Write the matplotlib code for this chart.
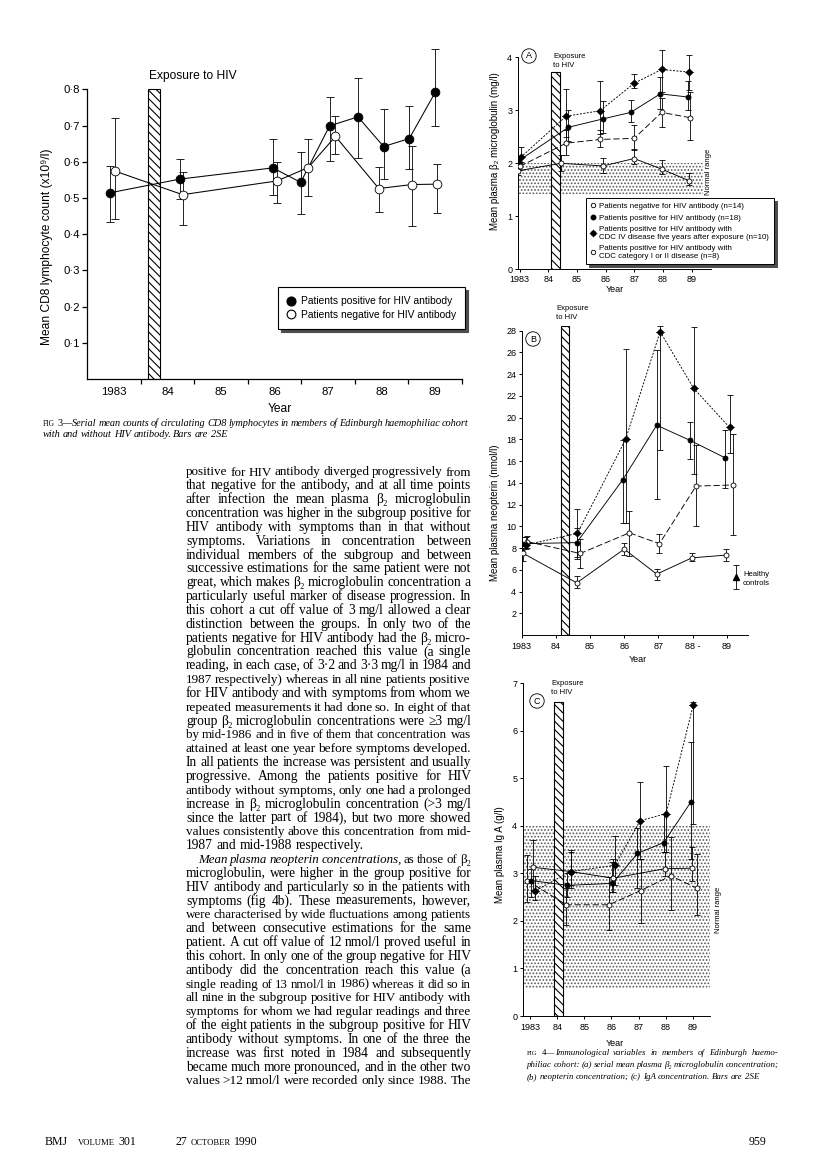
import numpy as np
import matplotlib
matplotlib.use('Agg')
import matplotlib.pyplot as plt
from matplotlib import font_manager as fm
from matplotlib.patches import Rectangle
from matplotlib.lines import Line2D

# ---------------- data ----------------
# Fig 3: mean CD8 lymphocyte count (x10^9/l), bars are 2SE
F3_POS_X = [1983.42, 1984.73, 1986.47, 1986.99, 1987.53, 1988.06, 1988.54, 1989.02, 1989.51]
F3_POS_Y = [0.514, 0.552, 0.583, 0.543, 0.699, 0.724, 0.642, 0.664, 0.793]
F3_POS_LO = [0.434, 0.496, 0.507, 0.456, 0.602, 0.610, 0.551, 0.580, 0.699]
F3_POS_HI = [0.589, 0.607, 0.662, 0.628, 0.779, 0.830, 0.746, 0.754, 0.911]
F3_NEG_X = [1983.52, 1984.78, 1986.55, 1987.13, 1987.64, 1988.45, 1989.07, 1989.53]
F3_NEG_Y = [0.574, 0.509, 0.547, 0.584, 0.670, 0.526, 0.537, 0.538]
F3_NEG_LO = [0.442, 0.426, 0.487, 0.506, 0.620, 0.462, 0.422, 0.458]
F3_NEG_HI = [0.721, 0.571, 0.600, 0.662, 0.727, 0.585, 0.643, 0.594]
F3_EXPOSURE = (1984.13, 1984.35)
F3_YTICKS = [0.1, 0.2, 0.3, 0.4, 0.5, 0.6, 0.7, 0.8]
F3_YLABELS = ['0·1', '0·2', '0·3', '0·4', '0·5', '0·6', '0·7', '0·8']
F3_XLABELS = ['1983', '84', '85', '86', '87', '88', '89']
F3_LEGEND = ['Patients positive for HIV antibody', 'Patients negative for HIV antibody']

# Fig 4a: beta2 microglobulin (mg/l)
A_NEG_X = [1982.95, 1984.44, 1985.90, 1986.99, 1987.95, 1988.91]
A_NEG_Y = [1.86, 2.00, 1.95, 2.09, 1.89, 1.67]
A_NEG_LO = [1.78, 1.85, 1.82, 1.98, 1.80, 1.60]
A_NEG_HI = [1.95, 2.15, 2.10, 2.27, 2.07, 1.82]
A_POS_X = [1982.97, 1984.70, 1985.92, 1986.87, 1987.90, 1988.88]
A_POS_Y = [2.05, 2.68, 2.84, 2.96, 3.31, 3.25]
A_POS_LO = [1.98, 2.42, 2.58, 2.78, 3.02, 3.00]
A_POS_HI = [2.12, 3.00, 3.18, 3.20, 3.62, 3.55]
A_C4_X = [1983.03, 1984.62, 1985.80, 1986.99, 1987.95, 1988.92]
A_C4_Y = [2.11, 2.89, 2.99, 3.51, 3.77, 3.72]
A_C4_LO = [2.02, 2.50, 2.55, 3.42, 3.35, 3.38]
A_C4_HI = [2.30, 3.40, 3.55, 3.68, 4.14, 4.05]
A_C12_X = [1983.00, 1984.62, 1985.80, 1986.99, 1987.95, 1988.95]
A_C12_Y = [1.94, 2.38, 2.45, 2.47, 2.96, 2.86]
A_C12_LO = [1.88, 2.15, 2.30, 2.25, 2.68, 2.44]
A_C12_HI = [2.00, 2.62, 2.62, 2.72, 3.23, 3.35]
A_NORMAL = (1982.93, 1989.40, 1.42, 2.0)
A_EXPOSURE = (1984.09, 1984.41, 3.72)

# Fig 4b: neopterin (nmol/l)
B_NEG_X = [1983.05, 1984.61, 1986.00, 1986.95, 1987.98, 1988.98]
B_NEG_Y = [7.5, 4.8, 7.9, 5.6, 7.1, 7.35]
B_NEG_LO = [6.8, 4.3, 7.4, 5.1, 6.8, 6.8]
B_NEG_HI = [8.0, 5.4, 8.5, 6.1, 7.5, 7.9]
B_POS_X = [1983.00, 1984.61, 1985.96, 1986.95, 1987.93, 1988.95]
B_POS_Y = [8.4, 8.5, 14.3, 19.3, 17.9, 16.3]
B_POS_LO = [7.8, 7.0, 10.3, 12.5, 16.2, 13.5]
B_POS_HI = [9.0, 9.8, 17.9, 26.2, 19.6, 18.9]
B_C4_X = [1983.13, 1984.63, 1986.04, 1987.05, 1988.03, 1989.08]
B_C4_Y = [8.3, 9.35, 18.0, 27.9, 22.7, 19.1]
B_C4_LO = [7.9, 7.2, 10.3, 17.0, 14.8, 16.7]
B_C4_HI = [9.0, 11.6, 26.3, 28.4, 28.3, 22.1]
B_C12_X = [1983.15, 1984.71, 1986.15, 1987.03, 1988.10, 1989.18]
B_C12_Y = [8.6, 7.5, 9.4, 8.4, 13.7, 13.8]
B_C12_LO = [8.0, 6.2, 7.3, 7.5, 10.0, 9.2]
B_C12_HI = [9.1, 8.8, 11.4, 9.3, 17.5, 18.5]
B_HEALTHY = (1989.27, 5.3, 4.2, 6.4)
B_EXPOSURE = (1984.15, 1984.39, 28.4)

# Fig 4c: IgA (g/l)
C_NEG_X = [1983.10, 1984.49, 1986.06, 1987.97, 1988.98]
C_NEG_Y = [3.13, 3.04, 2.90, 3.10, 3.11]
C_NEG_LO = [2.65, 2.70, 2.62, 2.95, 2.85]
C_NEG_HI = [3.70, 3.50, 3.30, 3.45, 3.55]
C_POS_X = [1983.04, 1984.37, 1986.03, 1986.96, 1987.93, 1988.93]
C_POS_Y = [2.85, 2.75, 2.79, 3.42, 3.65, 4.50]
C_POS_LO = [2.50, 2.50, 2.60, 2.70, 3.45, 3.30]
C_POS_HI = [3.10, 3.00, 3.25, 3.95, 4.25, 5.77]
C_C4_X = [1983.19, 1984.49, 1986.12, 1987.06, 1988.02, 1989.02]
C_C4_Y = [2.64, 3.04, 3.17, 4.11, 4.26, 6.54]
C_C4_LO = [2.45, 2.75, 2.75, 3.30, 3.45, 4.05]
C_C4_HI = [2.95, 3.45, 3.78, 4.93, 5.27, 6.60]
C_C12_X = [1982.89, 1984.33, 1985.90, 1987.08, 1988.19, 1989.16]
C_C12_Y = [2.85, 2.34, 2.34, 2.64, 2.95, 2.69]
C_C12_LO = [2.40, 1.92, 1.80, 1.95, 2.24, 2.12]
C_C12_HI = [3.38, 2.70, 2.92, 3.30, 3.77, 3.40]
C_NORMAL = (1982.72, 1989.64, 0.58, 4.0)
C_EXPOSURE = (1983.88, 1984.20, 6.61)

F4_XLABELS = ['1983', '84', '85', '86', '87', '88', '89']
F4B_XLABELS = ['1983', '84', '85', '86', '87', '88 -', '89']
F4_LEGEND = ['Patients negative for HIV antibody (n=14)',
             'Patients positive for HIV antibody (n=18)',
             'Patients positive for HIV antibody with\nCDC IV disease five years after exposure (n=10)',
             'Patients positive for HIV antibody with\nCDC category I or II disease (n=8)']

CAP3 = ["^FIG =3—|Serial mean counts of circulating CD8 lymphocytes in members of Edinburgh haemophiliac cohort",
        "with and without HIV antibody. Bars are 2SE"]
CAP4 = ["^FIG =4—|Immunological variables in members of Edinburgh haemo-",
        "philiac cohort: (a) serial mean plasma β₂ microglobulin concentration;",
        "(b) neopterin concentration; (c) IgA concentration. Bars are 2SE"]

BODY = [
    "positive for HIV antibody diverged progressively from",
    "that negative for the antibody, and at all time points",
    "after infection the mean plasma β₂ microglobulin",
    "concentration was higher in the subgroup positive for",
    "HIV antibody with symptoms than in that without",
    "symptoms. Variations in concentration between",
    "individual members of the subgroup and between",
    "successive estimations for the same patient were not",
    "great, which makes β₂ microglobulin concentration a",
    "particularly useful marker of disease progression. In",
    "this cohort a cut off value of 3\u2009mg/l allowed a clear",
    "distinction between the groups. In only two of the",
    "patients negative for HIV antibody had the β₂ micro-",
    "globulin concentration reached this value (a single",
    "reading, in each case, of 3·2 and 3·3\u2009mg/l in 1984 and",
    "1987 respectively) whereas in all nine patients positive",
    "for HIV antibody and with symptoms from whom we",
    "repeated measurements it had done so. In eight of that",
    "group β₂ microglobulin concentrations were ≥3\u2009mg/l",
    "by mid-1986 and in five of them that concentration was",
    "attained at least one year before symptoms developed.",
    "In all patients the increase was persistent and usually",
    "progressive. Among the patients positive for HIV",
    "antibody without symptoms, only one had a prolonged",
    "increase in β₂ microglobulin concentration (>3\u2009mg/l",
    "since the latter part of 1984), but two more showed",
    "values consistently above this concentration from mid-",
    "1987 and mid-1988 respectively.",
    "_Mean _plasma _neopterin _concentrations, as those of β₂",
    "microglobulin, were higher in the group positive for",
    "HIV antibody and particularly so in the patients with",
    "symptoms (fig 4b). These measurements, however,",
    "were characterised by wide fluctuations among patients",
    "and between consecutive estimations for the same",
    "patient. A cut off value of 12\u2009nmol/l proved useful in",
    "this cohort. In only one of the group negative for HIV",
    "antibody did the concentration reach this value (a",
    "single reading of 13\u2009nmol/l in 1986) whereas it did so in",
    "all nine in the subgroup positive for HIV antibody with",
    "symptoms for whom we had regular readings and three",
    "of the eight patients in the subgroup positive for HIV",
    "antibody without symptoms. In one of the three the",
    "increase was first noted in 1984 and subsequently",
    "became much more pronounced, and in the other two",
    "values >12\u2009nmol/l were recorded only since 1988. The",
]

# ---------------- fonts ----------------
try:
    fm.findfont('Liberation Sans Narrow', fallback_to_default=False)
    NARROW = ['Liberation Sans Narrow', 'DejaVu Sans']
    K = 1.0
except ValueError:
    NARROW = ['Liberation Sans', 'DejaVu Sans']
    K = 0.82
PLAIN = ['Liberation Sans', 'DejaVu Sans']
SERIF = ['Liberation Serif', 'DejaVu Serif']
plt.rcParams['font.family'] = NARROW
plt.rcParams['hatch.linewidth'] = 0.8

W, H = 816, 1164
fig = plt.figure(figsize=(W / 100, H / 100), dpi=100)
renderer = fig.canvas.get_renderer()


def make_axes(l, t, r, b, xlim, ylim, ytop):
    ax = fig.add_axes([l / W, 1 - b / H, (r - l) / W, (b - t) / H])
    ax.set_xlim(xlim)
    ax.set_ylim(ylim)
    ax.patch.set_visible(False)
    ax.spines[['top', 'right']].set_visible(False)
    ax.spines['left'].set_bounds(ylim[0], ytop)
    ax.spines[['left', 'bottom']].set_linewidth(0.9)
    return ax


def series(ax, x, y, lo, hi, kind, ms, cap, lw):
    x, y, lo, hi = map(np.asarray, (x, y, lo, hi))
    ax.errorbar(x, y, yerr=[y - lo, hi - y], fmt='none', ecolor='black',
                elinewidth=0.6, capsize=cap, capthick=0.6, zorder=3)
    ls = {'neg': '-', 'pos': '-', 'c4': (0, (2.2, 1.6)), 'c12': (0, (7, 3))}[kind]
    ax.plot(x, y, color='black', lw=lw, ls=ls, zorder=4)
    if kind == 'c4':
        ax.plot(x, y, ls='none', marker=(4, 1, 0), ms=ms * 1.7, mfc='black', mec='black', mew=0.3, zorder=5)
    fc = 'white' if kind in ('neg', 'c12') else 'black'
    ax.plot(x, y, ls='none', marker='o', ms=ms, mfc=fc, mec='black', mew=0.6, zorder=5)


def exposure(ax, x0, x1, top):
    ax.add_patch(Rectangle((x0, 0), x1 - x0, top, facecolor='white', edgecolor='black',
                           hatch='\\\\\\\\', lw=0.8, zorder=2))


def normal_range(ax, x0, x1, lo, hi):
    ax.add_patch(Rectangle((x0, lo), x1 - x0, hi - lo, facecolor='none', edgecolor='0.35',
                           hatch='.....', lw=0, zorder=1))


def ftext(x, y, s, **kw):
    return fig.text(x / W, 1 - y / H, s, **kw)


# ---------------- Fig 3 ----------------
ax3 = make_axes(87.3, 45.9, 461.7, 378.9, (1983, 1990), (0, 0.92), 0.8)
ax3.set_yticks(F3_YTICKS, F3_YLABELS)
ax3.set_xticks(np.arange(1984, 1991), [])
ax3.set_xticks(np.arange(1983.5, 1990), F3_XLABELS, minor=True)
ax3.tick_params(axis='y', length=3.6, width=0.9, labelsize=10 * K, pad=1.5)
ax3.tick_params(axis='x', which='major', length=3.6, width=0.9)
ax3.tick_params(axis='x', which='minor', length=0, labelsize=10 * K, pad=5.5)
exposure(ax3, *F3_EXPOSURE, 0.8)
series(ax3, F3_POS_X, F3_POS_Y, F3_POS_LO, F3_POS_HI, 'pos', 6.3, 2.9, 0.75)
series(ax3, F3_NEG_X, F3_NEG_Y, F3_NEG_LO, F3_NEG_HI, 'neg', 6.3, 2.9, 0.75)
ftext(149, 76, 'Exposure to HIV', fontsize=10.5 * K, va='center', ha='left')
ftext(47, 247, 'Mean CD8 lymphocyte count (x10⁹/l)', fontsize=10.5 * K, rotation=90, va='center', ha='center')
ftext(280, 409, 'Year', fontsize=10.5 * K, va='center', ha='center')
h3 = [Line2D([], [], ls='none', marker='o', ms=6.3, mfc='black', mec='black'),
      Line2D([], [], ls='none', marker='o', ms=6.3, mfc='white', mec='black', mew=0.8)]
leg3 = fig.legend(h3, F3_LEGEND, loc='upper left', bbox_to_anchor=(278 / W, 1 - 287 / H),
                  frameon=True, fancybox=False, shadow={'color': '0.3', 'alpha': 1},
                  edgecolor='black', framealpha=1, fontsize=9 * K, handlelength=0.8,
                  handletextpad=0.5, borderpad=0.9, labelspacing=0.35, borderaxespad=0)
leg3.get_frame().set_linewidth(0.8)

# ---------------- Fig 4 panels ----------------
def panel(l, t, r, b, xlim, ylim, ytop, yticks):
    ax = make_axes(l, t, r, b, xlim, ylim, ytop)
    ax.set_yticks(yticks, [str(v) for v in yticks])
    ax.tick_params(length=2.4, width=0.7, labelsize=6.5, pad=1.5, labelfontfamily=PLAIN)
    ax.spines[['left', 'bottom']].set_linewidth(0.7)
    return ax


def four(ax, d, ms=3.6, cap=2.2):
    for kind, (x, y, lo, hi) in d:
        series(ax, x, y, lo, hi, kind, ms, cap, 0.65)


def circled(x, y, s):
    ftext(x, y, s, fontsize=6.5, family=PLAIN, va='center', ha='center',
          bbox=dict(boxstyle='circle,pad=0.3', fc='white', ec='black', lw=0.6))


# (a)
axa = panel(517.7, 41.4, 711, 269.3, (1982.93, 1989.67), (0, 4.3), 4, [0, 1, 2, 3, 4])
axa.set_xticks(np.arange(1983, 1990), F4_XLABELS)
normal_range(axa, *A_NORMAL)
exposure(axa, *A_EXPOSURE)
four(axa, [('neg', (A_NEG_X, A_NEG_Y, A_NEG_LO, A_NEG_HI)),
           ('c12', (A_C12_X, A_C12_Y, A_C12_LO, A_C12_HI)),
           ('pos', (A_POS_X, A_POS_Y, A_POS_LO, A_POS_HI)),
           ('c4', (A_C4_X, A_C4_Y, A_C4_LO, A_C4_HI))])
circled(529, 56, 'A')
ftext(553, 61, 'Exposure\nto HIV', fontsize=5.5, family=PLAIN, va='center', ha='left', linespacing=1.4)
ftext(709, 172, 'Normal range', fontsize=5.5, family=PLAIN, rotation=90, va='center', ha='center')
ftext(495, 151, 'Mean plasma β₂ microglobulin (mg/l)', fontsize=7, family=PLAIN, rotation=90, va='center', ha='center')
ftext(615, 289, 'Year', fontsize=6.5, family=PLAIN, va='center', ha='center')
h4 = [Line2D([], [], ls='none', marker='o', ms=3.2, mfc='white', mec='black', mew=0.6),
      Line2D([], [], ls='none', marker='o', ms=3.2, mfc='black', mec='black'),
      (Line2D([], [], ls='none', marker=(4, 1, 0), ms=5.4, mfc='black', mec='black', mew=0.3),
       Line2D([], [], ls='none', marker='o', ms=3.2, mfc='black', mec='black')),
      Line2D([], [], ls='none', marker='o', ms=3.2, mfc='white', mec='black', mew=0.6)]
leg4 = fig.legend(h4, F4_LEGEND, loc='upper left', bbox_to_anchor=(586 / W, 1 - 198 / H),
                  frameon=True, fancybox=False, shadow={'color': '0.3', 'alpha': 1},
                  edgecolor='black', framealpha=1, fontsize=6.9 * K, handlelength=0.6,
                  handletextpad=0.5, borderpad=0.6, labelspacing=0.5, borderaxespad=0)
leg4.get_frame().set_linewidth(0.7)

# (b)
axb = panel(521.7, 326.3, 748.3, 635, (1983, 1989.63), (0, 28.4), 28, list(range(2, 29, 2)))
axb.set_xticks(np.arange(1983, 1990), F4B_XLABELS)
axb.tick_params(axis='x', pad=3)
exposure(axb, *B_EXPOSURE)
four(axb, [('neg', (B_NEG_X, B_NEG_Y, B_NEG_LO, B_NEG_HI)),
           ('c12', (B_C12_X, B_C12_Y, B_C12_LO, B_C12_HI)),
           ('pos', (B_POS_X, B_POS_Y, B_POS_LO, B_POS_HI)),
           ('c4', (B_C4_X, B_C4_Y, B_C4_LO, B_C4_HI))])
hx, hy, hlo, hhi = B_HEALTHY
axb.errorbar([hx], [hy], yerr=[[hy - hlo], [hhi - hy]], fmt='^', ms=4, mfc='black', mec='black',
             ecolor='black', elinewidth=0.6, capsize=2.2, capthick=0.6, zorder=5)
circled(533, 339, 'B')
ftext(556, 313, 'Exposure\nto HIV', fontsize=5.5, family=PLAIN, va='center', ha='left', linespacing=1.4)
ftext(743, 579, 'Healthy\ncontrols', fontsize=5.5, family=PLAIN, va='center', ha='left', linespacing=1.3)
ftext(495, 513, 'Mean plasma neopterin (nmol/l)', fontsize=7, family=PLAIN, rotation=90, va='center', ha='center')
ftext(638, 659, 'Year', fontsize=6.5, family=PLAIN, va='center', ha='center')

# (c)
axc = panel(522.7, 681, 710, 1016, (1982.72, 1989.64), (0, 7.05), 7, list(range(0, 8)))
axc.set_xticks(np.arange(1983, 1990), F4_XLABELS)
axc.tick_params(axis='x', pad=3)
normal_range(axc, *C_NORMAL)
exposure(axc, *C_EXPOSURE)
four(axc, [('neg', (C_NEG_X, C_NEG_Y, C_NEG_LO, C_NEG_HI)),
           ('c12', (C_C12_X, C_C12_Y, C_C12_LO, C_C12_HI)),
           ('pos', (C_POS_X, C_POS_Y, C_POS_LO, C_POS_HI)),
           ('c4', (C_C4_X, C_C4_Y, C_C4_LO, C_C4_HI))])
circled(537, 701, 'C')
ftext(551, 688, 'Exposure\nto HIV', fontsize=5.5, family=PLAIN, va='center', ha='left', linespacing=1.4)
ftext(718, 910, 'Normal range', fontsize=5.5, family=PLAIN, rotation=90, va='center', ha='center')
ftext(500, 855, 'Mean plasma Ig A (g/l)', fontsize=7, family=PLAIN, rotation=90, va='center', ha='center')
ftext(615, 1043, 'Year', fontsize=6.5, family=PLAIN, va='center', ha='center')


# ---------------- justified serif text ----------------
def parse(word, default):
    out = []
    for part in word.split('|'):
        if part.startswith('_'):
            out.append((part[1:], 'italic', 1.0))
        elif part.startswith('^'):
            out.append((part[1:], 'normal', 0.74))
        elif part.startswith('='):
            out.append((part[1:], 'normal', 1.0))
        else:
            out.append((part, default, 1.0))
    return out


def width(text, size, style):
    t = fig.text(0, 0, text, fontsize=size, family=SERIF, style=style)
    w = t.get_window_extent(renderer).width
    t.remove()
    return w


def paragraph(lines, x0, x1, y0, dy, base, default='normal', ragged=(), indent=None, pct=70):
    # measure every word once at the base size; widths scale linearly with size
    indent = indent or {}
    sp = base * 100 / 72 * 0.25
    info = []
    for i, line in enumerate(lines):
        words = [parse(w, default) for w in line.split()]
        wid = [[width(t, base * s, st) for t, st, s in wd] for wd in words]
        avail = x1 - x0 - indent.get(i, 0)
        n = len(words) - 1
        total = sum(map(sum, wid))
        info.append((words, wid, avail, n, total, (total + 0.8 * sp * n) / avail))
    ratios = [r for i, (*_, r) in enumerate(info) if i not in ragged]
    f = 1 / np.percentile(ratios, pct)
    for i, (words, wid, avail, n, total, r) in enumerate(info):
        if i in ragged or n == 0:
            k = f
            gap = sp * k
        else:
            k = min(f, 1 / r)
            gap = (avail - total * k) / n
        x = x0 + indent.get(i, 0)
        for wd, ws in zip(words, wid):
            for (t, st, s), w in zip(wd, ws):
                ftext(x, y0 + i * dy, t, fontsize=base * k * s, family=SERIF, style=st,
                      va='baseline', ha='left')
                x += w * k
            x += gap


paragraph(CAP3, 43, 468, 426.5, 10.6, 7.6, default='italic', ragged={1}, pct=100)
paragraph(BODY, 186, 471, 475.5, 13.84, 9.0, ragged={27}, indent={28: 12}, pct=70)
paragraph(CAP4, 527, 778, 1055, 12, 7.2, default='italic', ragged={2}, pct=100)

# footer
x = 45
for s, sz, gap in [('BMJ', 8.5, 10), ('VOLUME', 6.2, 3), ('301', 8.5, 40),
                   ('27', 8.5, 3), ('OCTOBER', 6.2, 3), ('1990', 8.5, 0)]:
    ftext(x, 1145, s, fontsize=sz, family=SERIF, va='baseline', ha='left')
    x += width(s, sz, 'normal') + gap
ftext(766, 1145, '959', fontsize=8.5, family=SERIF, va='baseline', ha='right')

fig.savefig('out.png', dpi=100)
